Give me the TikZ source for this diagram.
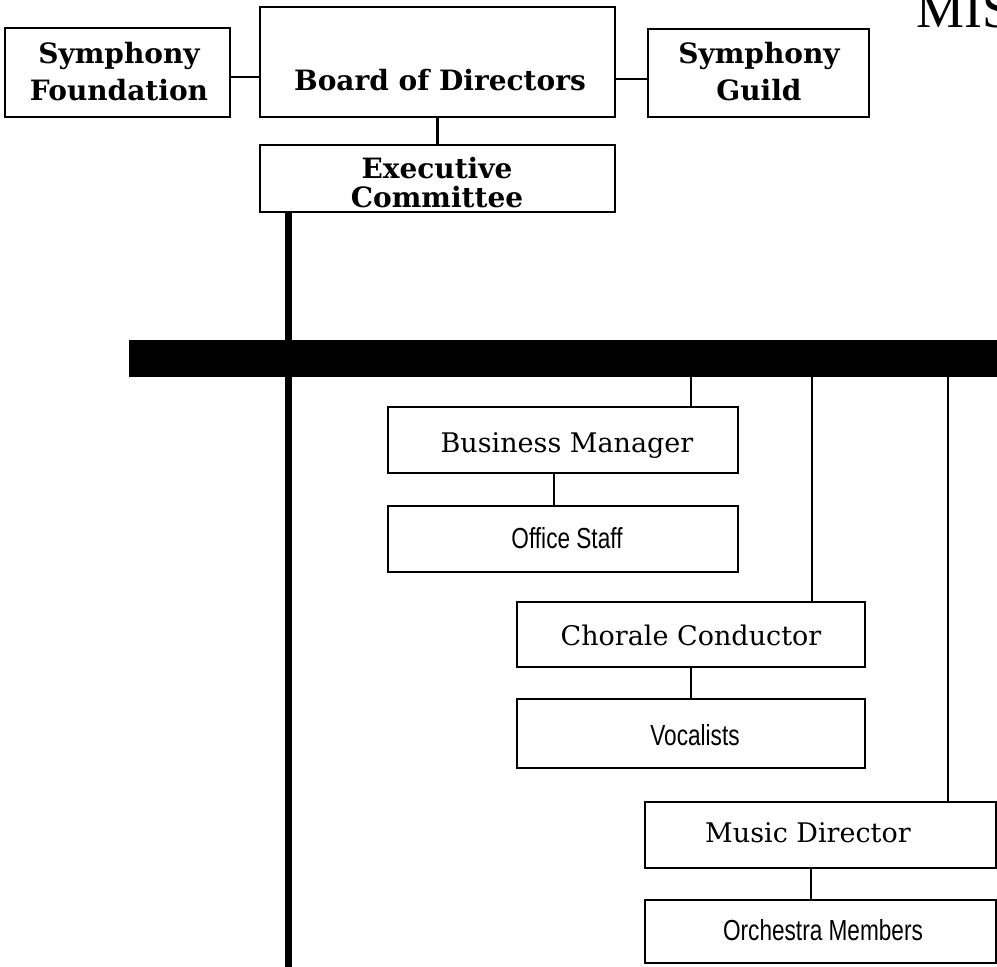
\documentclass[tikz,border=0pt]{standalone}
\usepackage{fontspec}
\usepackage{graphicx}
\setmainfont{DejaVu Serif}
\newfontfamily\narrowsans{Liberation Sans}
\newfontfamily\titleserif{Liberation Serif}
\tikzset{
  box/.style={draw, line width=2.6pt, inner sep=0pt, outer sep=0pt, rectangle, fill=white},
  boldlbl/.style={anchor=base, inner sep=0pt, font=\fontsize{28}{32}\selectfont\bfseries},
  seriflbl/.style={anchor=base, inner sep=0pt, font=\fontsize{27}{32}\selectfont},
  sanslbl/.style={anchor=base, inner sep=0pt, font=\narrowsans\fontsize{29}{32}\selectfont},
  link/.style={line width=2.6pt},
  spineline/.style={line width=7pt},
}
\newcommand{\narrowtext}[1]{\scalebox{0.78}[1]{#1}}
\begin{document}
\begin{tikzpicture}[x=1pt, y=-1pt]
\useasboundingbox (0,0) rectangle (997,967);
\clip (0,0) rectangle (997,967);

% title fragment (cut by the page edge, as in the reference)
\node[anchor=base west, inner sep=0pt, font=\titleserif\fontsize{54}{54}\selectfont] (title) at (916,27) {MIS};

% top boxes
\node[box, minimum width=225pt, minimum height=89pt] (sf) at (117.5,72.5) {};
\node[box, minimum width=355pt, minimum height=110pt] (bod) at (437.5,62) {};
\node[box, minimum width=221pt, minimum height=88pt] (sg) at (758.5,73) {};
\node[box, minimum width=355pt, minimum height=67pt] (exec) at (437.5,178.5) {};

\node[boldlbl] (sf1) at (119,63) {Symphony};
\node[boldlbl] (sf2) at (119,100) {Foundation};
\node[boldlbl] (bodl) at (440,90) {Board of Directors};
\node[boldlbl] (sg1) at (759,63) {Symphony};
\node[boldlbl] (sg2) at (759,100) {Guild};
\node[boldlbl] (ex1) at (437,178) {Executive};
\node[boldlbl] (ex2) at (437,207) {Committee};

% coordinates for connector positions
\coordinate (ysf) at (0,77);
\coordinate (ysg) at (0,79);
\coordinate (spine) at (288,0);
\coordinate (spineend) at (288,967);
\coordinate (xbm) at (691,0);
\coordinate (xos) at (554,0);
\coordinate (xcc) at (812,0);
\coordinate (xvo) at (691,0);
\coordinate (xmd) at (948,0);
\coordinate (xom) at (811,0);

\draw[link] (sf.east |- ysf) -- (bod.west |- ysf);
\draw[link] (bod.east |- ysg) -- (sg.west |- ysg);
\draw[line width=3pt] (bod.south) -- (exec.north);

% main bar
\node[fill=black, inner sep=0pt, outer sep=0pt, minimum width=868pt, minimum height=37pt] (bar) at (563,358.5) {};

% spine
\draw[spineline] (exec.south -| spine) -- (spineend);

% lower boxes
\node[box, minimum width=350pt, minimum height=66pt] (bm) at (563,440) {};
\node[box, minimum width=350pt, minimum height=66pt] (os) at (563,539) {};
\node[box, minimum width=348pt, minimum height=65pt] (cc) at (691,634.5) {};
\node[box, minimum width=348pt, minimum height=69pt] (vo) at (691,733.5) {};
\node[box, minimum width=351pt, minimum height=66pt] (md) at (820.5,835) {};
\node[box, minimum width=351pt, minimum height=63pt] (om) at (820.5,931.5) {};

\draw[link] (bar.south -| xbm) -- (bm.north -| xbm);
\draw[link] (bm.south -| xos) -- (os.north -| xos);
\draw[link] (bar.south -| xcc) -- (cc.north -| xcc);
\draw[link] (cc.south -| xvo) -- (vo.north -| xvo);
\draw[link] (bar.south -| xmd) -- (md.north -| xmd);
\draw[link] (md.south -| xom) -- (om.north -| xom);

\node[seriflbl] (bml) at (567,452) {Business Manager};
\node[sanslbl] (osl) at (567,548) {\narrowtext{Office Staff}};
\node[seriflbl] (ccl) at (691,645) {Chorale Conductor};
\node[sanslbl] (vol) at (695,745) {\narrowtext{Vocalists}};
\node[seriflbl] (mdl) at (808,842) {Music Director};
\node[sanslbl] (oml) at (823,940) {\narrowtext{Orchestra Members}};
\end{tikzpicture}
\end{document}
